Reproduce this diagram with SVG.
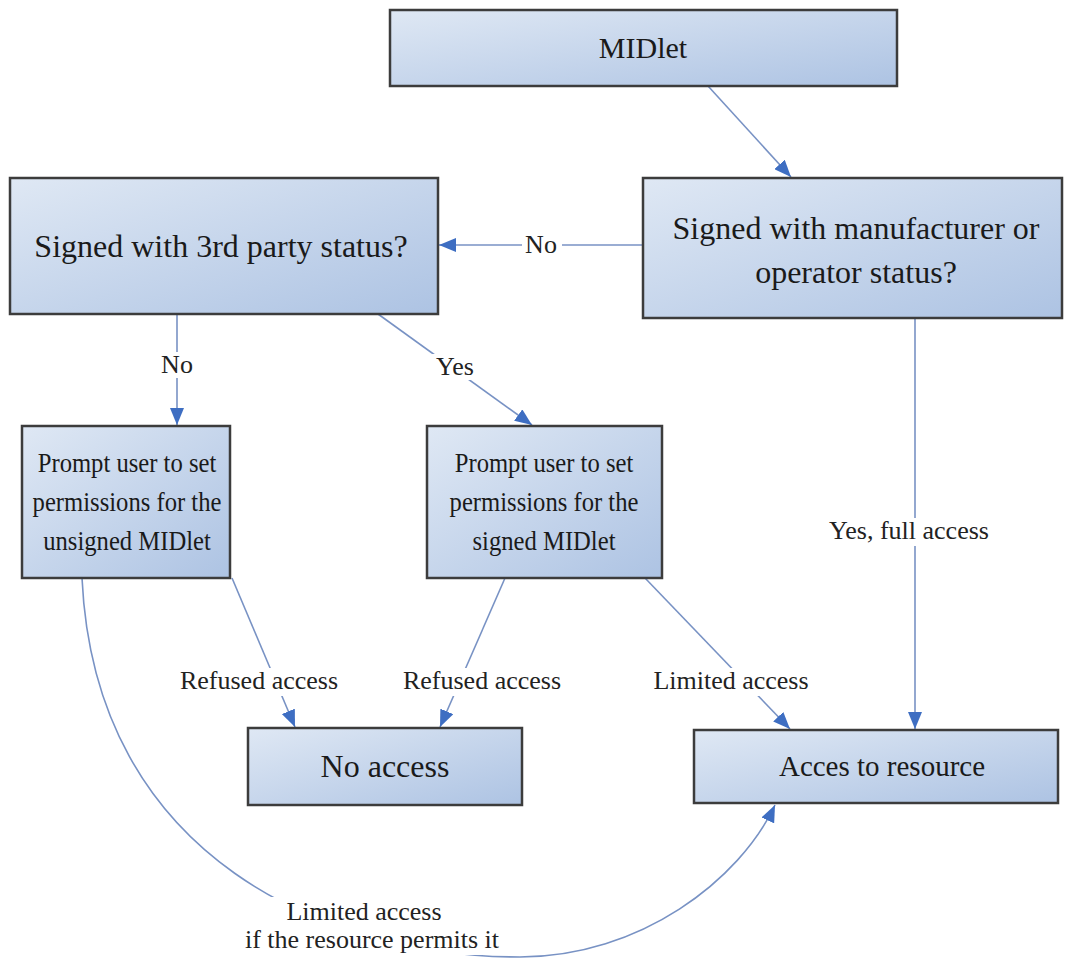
<svg xmlns="http://www.w3.org/2000/svg" width="1074" height="961" viewBox="0 0 1074 961">
<defs>
<linearGradient id="fill" x1="0" y1="0" x2="1" y2="1">
<stop offset="0" stop-color="#dfe8f4"/>
<stop offset="1" stop-color="#adc3e3"/>
</linearGradient>
<marker id="ah" markerUnits="userSpaceOnUse" markerWidth="18" markerHeight="14" refX="17" refY="7" orient="auto">
<path d="M0,0 L17,7 L0,14 z" fill="#3e6ec2"/>
</marker>
</defs>
<style>
.box{fill:url(#fill);stroke:#3c3c3c;stroke-width:2.5}
.t{font-family:"Liberation Serif","Times New Roman",serif;font-size:32px;fill:#1a1a1a;text-anchor:middle}
.p{font-family:"Liberation Serif","Times New Roman",serif;font-size:28px;fill:#1a1a1a;text-anchor:middle}
.l{font-family:"Liberation Serif","Times New Roman",serif;font-size:26px;fill:#222;text-anchor:middle}
.c{fill:none;stroke:#7892c4;stroke-width:1.6}
.a{marker-end:url(#ah)}
.bg{fill:#fff}
</style>
<rect width="1074" height="961" fill="#fff"/>

<g id="connectors">
<path class="c a" d="M708,86 L791,177"/>
<path class="c a" d="M643,245 L439,245"/>
<path class="c a" d="M177,314 L177,425"/>
<path class="c a" d="M378,314 L532,425"/>
<path class="c a" d="M915,318 L915,729"/>
<path class="c a" d="M232,578 L295,727"/>
<path class="c a" d="M505,578 L440,727"/>
<path class="c a" d="M645,578 L790,729"/>
<path class="c a" d="M82,578 C95,860 330,957 520,957 C640,957 740,880 775,805"/>

<rect class="bg" x="522" y="232" width="40" height="26"/>
<text class="l" x="541" y="253">No</text>
<rect class="bg" x="157" y="352" width="40" height="26"/>
<text class="l" x="177" y="373">No</text>
<rect class="bg" x="432" y="354" width="46" height="26"/>
<text class="l" x="455" y="375">Yes</text>
<rect class="bg" x="826" y="518" width="166" height="28"/>
<text class="l" x="909" y="539">Yes, full access</text>
<rect class="bg" x="177" y="668" width="164" height="28"/>
<text class="l" x="259" y="689">Refused access</text>
<rect class="bg" x="400" y="668" width="164" height="28"/>
<text class="l" x="482" y="689">Refused access</text>
<rect class="bg" x="652" y="668" width="158" height="28"/>
<text class="l" x="731" y="689">Limited access</text>
<rect class="bg" x="254" y="897" width="236" height="58"/>
<text class="l" x="364" y="920">Limited access</text>
<text class="l" x="372" y="948">if the resource permits it</text>
</g>

<g id="midlet">
<rect class="box" x="390" y="10" width="507" height="76"/>
<text class="t" x="643" y="58" style="font-size:30px">MIDlet</text>
</g>
<g id="manufacturer">
<rect class="box" x="643" y="178" width="419" height="140"/>
<text class="t" x="856" y="239">Signed with manufacturer or</text>
<text class="t" x="856" y="283">operator status?</text>
</g>
<g id="thirdparty">
<rect class="box" x="10" y="178" width="428" height="136"/>
<text class="t" x="221" y="257">Signed with 3rd party status?</text>
</g>
<g id="prompt-unsigned">
<rect class="box" x="22" y="426" width="208" height="152"/>
<g transform="translate(127,0) scale(0.88,1)">
<text class="p" x="0" y="472">Prompt user to set</text>
<text class="p" x="0" y="511">permissions for the</text>
<text class="p" x="0" y="550">unsigned MIDlet</text>
</g>
</g>
<g id="prompt-signed">
<rect class="box" x="427" y="426" width="235" height="152"/>
<g transform="translate(544,0) scale(0.88,1)">
<text class="p" x="0" y="472">Prompt user to set</text>
<text class="p" x="0" y="511">permissions for the</text>
<text class="p" x="0" y="550">signed MIDlet</text>
</g>
</g>
<g id="no-access">
<rect class="box" x="248" y="728" width="274" height="77"/>
<text class="t" x="385" y="777">No access</text>
</g>
<g id="access">
<rect class="box" x="694" y="730" width="364" height="73"/>
<text class="t" x="882" y="776" style="font-size:29px">Acces to resource</text>
</g>
</svg>
